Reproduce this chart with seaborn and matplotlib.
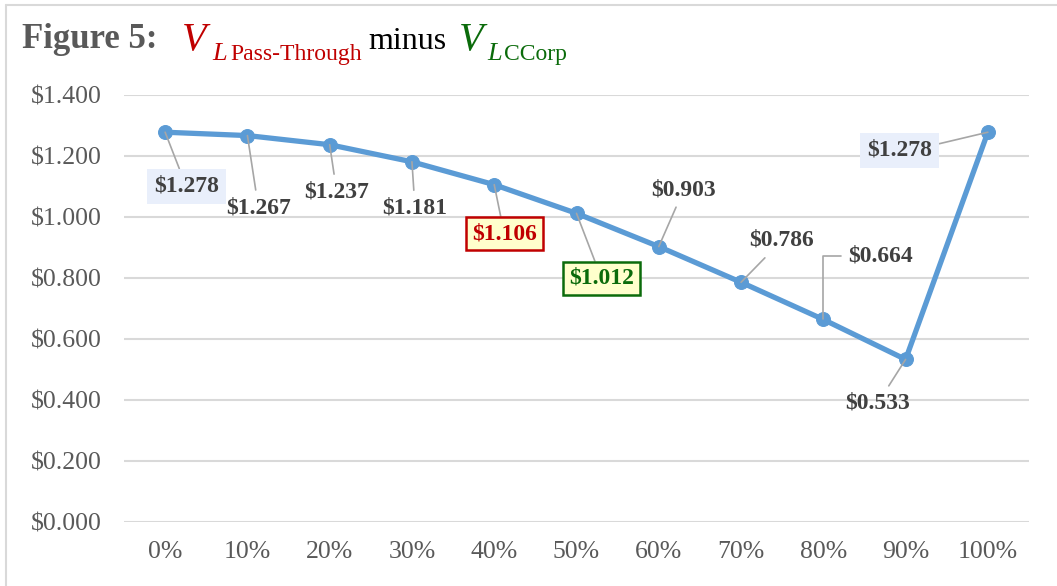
import numpy as np
import pandas as pd
import seaborn as sns
import matplotlib
matplotlib.use("Agg")
import matplotlib.pyplot as plt
from matplotlib.transforms import IdentityTransform
from matplotlib.lines import Line2D

# ---- data ----
categories = ["0%", "10%", "20%", "30%", "40%", "50%", "60%", "70%", "80%", "90%", "100%"]
values = [1.278, 1.267, 1.237, 1.181, 1.106, 1.012, 0.903, 0.786, 0.664, 0.533, 1.278]
y_ticks = [0.0, 0.2, 0.4, 0.6, 0.8, 1.0, 1.2, 1.4]

# ---- label styling (offsets in pixels, box styles) ----
label_offsets = [(21, -54), (11, -72), (7, -47), (3, -46), (10, -49), (25, -65),
                 (25, 57), (41, 42), (57, 63), (-28, -44), (-88, -18)]
label_styles = ["blue", "plain", "plain", "plain", "red", "green",
                "plain", "plain", "elbow", "plain", "blue_arm"]

sns.set_theme(style="white")
plt.rcParams["font.family"] = ["Liberation Serif", "DejaVu Serif"]

W, H = 1057, 586
fig = plt.figure(figsize=(W / 100, H / 100), dpi=100)
ax = fig.add_axes([124 / W, 1 - 522 / H, (1029 - 124) / W, (522 - 95) / H])

df = pd.DataFrame({"pos": np.arange(len(categories)), "value": values})
sns.lineplot(data=df, x="pos", y="value", ax=ax, color="#5B9BD5", linewidth=3.8,
             marker="o", markersize=10, markeredgecolor="#5B9BD5", zorder=3)

ax.set_xlim(-0.5, len(categories) - 0.5)
ax.set_ylim(0, 1.4)
ax.set_xticks(np.arange(len(categories)), labels=categories)
ax.set_yticks(y_ticks, labels=[f"${v:.3f}" for v in y_ticks])
ax.tick_params(axis="both", length=0, labelsize=18.5, labelcolor="#595959")
ax.tick_params(axis="y", pad=16)
ax.tick_params(axis="x", pad=14)
ax.yaxis.grid(True, color="#D9D9D9", linewidth=1.5)
ax.xaxis.grid(False)
for s in ax.spines.values():
    s.set_visible(False)
ax.set_xlabel("")
ax.set_ylabel("")

lead = dict(arrowstyle="-", color="#A6A6A6", lw=1.2, shrinkA=0, shrinkB=0)
for i, (v, off, st) in enumerate(zip(values, label_offsets, label_styles)):
    txt = f"${v:.3f}"
    color = "#404040"
    bbox = dict(boxstyle="square,pad=0.3", fc="none", ec="none")
    ap = dict(lead)
    if st in ("blue", "blue_arm"):
        bbox = dict(boxstyle="square,pad=0.3", fc="#E9EFFB", ec="none")
        if st == "blue_arm":
            ap["connectionstyle"] = "arc,angleA=0,armA=12,angleB=0,armB=0,rad=0"
    elif st == "red":
        color = "#C00000"
        bbox = dict(boxstyle="square,pad=0.25", fc="#FFFFCC", ec="#C00000", lw=1.8)
    elif st == "green":
        color = "#0B6B0B"
        bbox = dict(boxstyle="square,pad=0.25", fc="#FFFFCC", ec="#0B6B0B", lw=1.8)
    elif st == "elbow":
        ap["connectionstyle"] = "angle,angleA=0,angleB=90,rad=0"
    ax.annotate(txt, xy=(i, v), xytext=off, textcoords="offset pixels",
                ha="center", va="center", fontsize=17, fontweight="bold",
                color=color, bbox=bbox, arrowprops=ap, zorder=4)

# ---- title (pixel coordinates) ----
ident = IdentityTransform()
def put(x, y_top, s, **kw):
    fig.text(x, H - y_top, s, transform=ident, va="baseline", ha="left", **kw)

put(22, 48, "Figure 5:", fontsize=25, fontweight="bold", color="#595959")
put(182, 50, "V", fontsize=29, style="italic", color="#C00000")
put(212, 60, "L", fontsize=19, style="italic", color="#C00000")
put(230, 60, "Pass-Through", fontsize=17, color="#C00000")
put(368, 49, "minus", fontsize=23, color="#000000")
put(459, 50, "V", fontsize=29, style="italic", color="#0B6B0B")
put(487, 60, "L", fontsize=19, style="italic", color="#0B6B0B")
put(504, 60, "CCorp", fontsize=17, color="#0B6B0B")

# ---- chart border ----
fig.add_artist(Line2D([6 / W, 6 / W], [0, 1 - 5 / H], transform=fig.transFigure,
                      color="#D9D9D9", lw=1.5))
fig.add_artist(Line2D([6 / W, 1], [1 - 5 / H, 1 - 5 / H], transform=fig.transFigure,
                      color="#D9D9D9", lw=1.5))

fig.savefig("out.png", dpi=100)
